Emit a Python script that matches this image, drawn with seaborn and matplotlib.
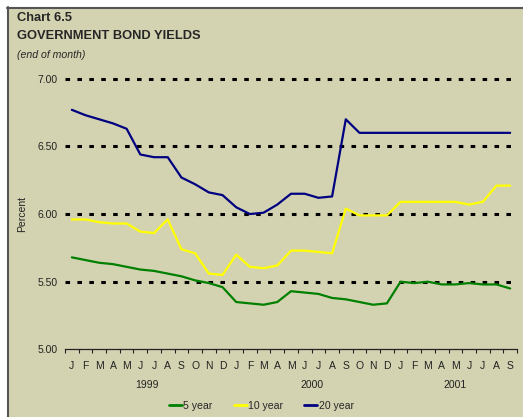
"""
Chart 6.5 - Government bond yields (end of month), Jan 1999 - Sep 2001.
"""
import matplotlib
matplotlib.use("Agg")
import matplotlib.pyplot as plt
from matplotlib.lines import Line2D
from matplotlib.patches import Rectangle
import pandas as pd
import seaborn as sns

# month letters, Jan 1999 .. Sep 2001
months = list("JFMAMJJASOND") * 2 + list("JFMAMJJAS")
years = ["1999", "2000", "2001"]
year_centres = [5.5, 17.5, 28]

yield_5y = [5.68, 5.66, 5.64, 5.63, 5.61, 5.59, 5.58, 5.56, 5.54, 5.51, 5.49, 5.46,
            5.35, 5.34, 5.33, 5.35, 5.43, 5.42, 5.41, 5.38, 5.37, 5.35, 5.33, 5.34,
            5.50, 5.49, 5.50, 5.48, 5.48, 5.49, 5.48, 5.48, 5.45]
yield_10y = [5.96, 5.96, 5.94, 5.93, 5.93, 5.87, 5.86, 5.96, 5.74, 5.71, 5.56, 5.55,
             5.70, 5.61, 5.60, 5.62, 5.73, 5.73, 5.72, 5.71, 6.04, 5.99, 5.99, 5.99,
             6.09, 6.09, 6.09, 6.09, 6.09, 6.07, 6.09, 6.21, 6.21]
yield_20y = [6.77, 6.73, 6.70, 6.67, 6.63, 6.44, 6.42, 6.42, 6.27, 6.22, 6.16, 6.14,
             6.05, 6.00, 6.01, 6.07, 6.15, 6.15, 6.12, 6.13, 6.70, 6.60, 6.60, 6.60,
             6.60, 6.60, 6.60, 6.60, 6.60, 6.60, 6.60, 6.60, 6.60]
series_names = ["5 year", "10 year", "20 year"]
grid_levels = [5.5, 6.0, 6.5, 7.0]

BG = "#D4D3B1"
palette = {"5 year": "#008000", "10 year": "#FFFF00", "20 year": "#000080"}

sns.set_theme(style="white", rc={"axes.facecolor": BG, "figure.facecolor": BG})
plt.rcParams["font.family"] = ["Liberation Sans", "DejaVu Sans"]

n = len(months)
df = pd.DataFrame({
    "month": list(range(n)) * 3,
    "value": yield_5y + yield_10y + yield_20y,
    "series": [s for s in series_names for _ in range(n)],
})

W, H = 523, 417
fig = plt.figure(figsize=(W / 100, H / 100), dpi=100)
ax = fig.add_axes([65 / W, 67.6 / H, 452 / W, 270.7 / H])

# dotted horizontal gridlines
for lvl in grid_levels:
    ax.axhline(lvl, color="black", lw=2.2, ls=(0, (1.5, 2.4)), clip_on=False, zorder=1)

sns.lineplot(data=df, x="month", y="value", hue="series", palette=palette,
             hue_order=series_names, lw=1.6, ax=ax, legend=False, zorder=3)

ax.set_xlim(-0.5, n - 0.5)
ax.set_ylim(5, 7)
ax.set_yticks([5.0, 5.5, 6.0, 6.5, 7.0])
ax.set_yticklabels([f"{v:.2f}" for v in [5.0, 5.5, 6.0, 6.5, 7.0]])
ax.tick_params(axis="y", length=0, pad=5, labelsize=7.5, colors="#222222")

ax.set_xticks(range(n))
ax.set_xticklabels(months)
ax.set_xticks([i - 0.5 for i in range(n + 1)], minor=True)
ax.tick_params(axis="x", which="major", length=0, pad=8.5, labelsize=7.5, colors="#222222")
ax.tick_params(axis="x", which="minor", bottom=True, length=3, width=0.8, color="#222222")
ax.set_xlabel("")
ax.set_ylabel("Percent", fontsize=7.5, labelpad=8, color="#222222")

for sp in ["top", "right", "left"]:
    ax.spines[sp].set_visible(False)
ax.spines["bottom"].set_color("#222222")
ax.spines["bottom"].set_linewidth(0.9)

for yr, c in zip(years, year_centres):
    ax.text(c, -0.1315, yr, transform=ax.get_xaxis_transform(), ha="center",
            va="center", fontsize=7.5, color="#222222")

# titles
fig.text(17 / W, 1 - 18 / H, "Chart 6.5", fontsize=9.3, fontweight="bold", va="center")
fig.text(17 / W, 1 - 36 / H, "GOVERNMENT BOND YIELDS", fontsize=9.3, fontweight="bold", va="center")
fig.text(17 / W, 1 - 55 / H, "(end of month)", fontsize=7.6, style="italic", va="center")

handles = [Line2D([], [], color=palette[s], lw=2) for s in series_names]
fig.legend(handles, series_names, loc="center", bbox_to_anchor=(0.5, 11 / H),
           ncol=3, frameon=False, fontsize=7.6, handlelength=1.2, handletextpad=0.15,
           columnspacing=2.0)

# white margin and dark frame at top and left
fig.add_artist(Rectangle((0, 1 - 7 / H), 1, 7 / H, transform=fig.transFigure,
                         facecolor="white", edgecolor="none", zorder=5))
fig.add_artist(Rectangle((0, 0), 7 / W, 1, transform=fig.transFigure,
                         facecolor="white", edgecolor="none", zorder=5))
fig.add_artist(Line2D([7 / W, 1], [1 - 7.8 / H, 1 - 7.8 / H], transform=fig.transFigure,
                      color="#555555", lw=1.5, zorder=6))
fig.add_artist(Line2D([8 / W, 8 / W], [0, 1 - 7 / H], transform=fig.transFigure,
                      color="#555555", lw=1.5, zorder=6))

fig.savefig("out.png", dpi=100, facecolor=BG)
plt.close(fig)
